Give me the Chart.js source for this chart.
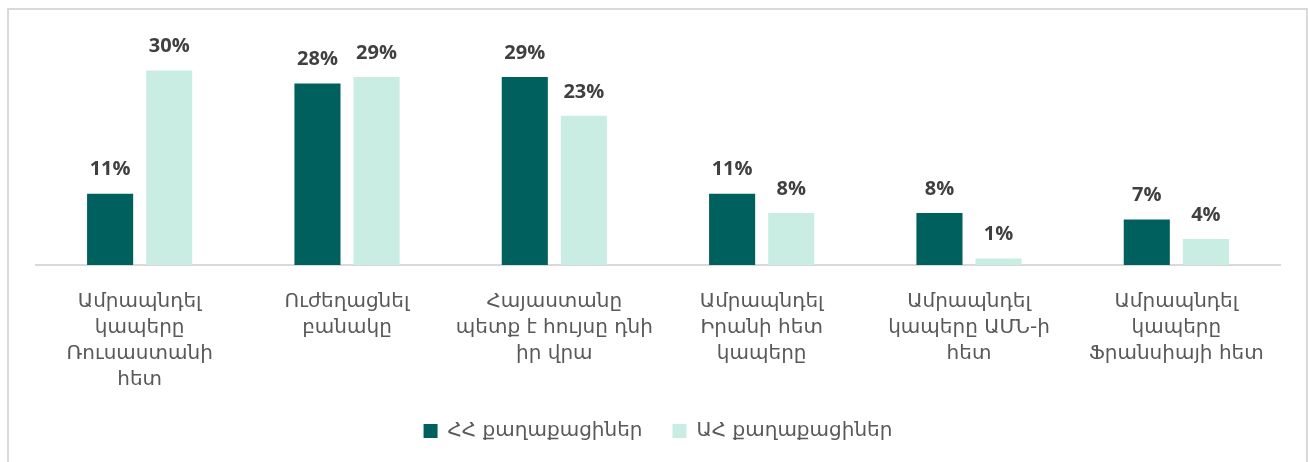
<!DOCTYPE html>
<html>
<head>
<meta charset="utf-8">
<script src="https://cdn.jsdelivr.net/npm/chart.js@4"></script>
<style>
    html, body { margin: 0; padding: 0; background: #fff; }
    #frame {
        position: absolute; left: 7px; top: 8px; width: 1297px; height: 470px;
        border: 2px solid #d9d9d9; border-bottom: none;
    }
    #wrap { position: absolute; left: 0; top: 0; width: 1308px; height: 462px; }
</style>
</head>
<body>
<div id="frame"></div>
<div id="wrap"><canvas id="barChart"></canvas></div>
<script>
// ── Data ──────────────────────────────────────────────────
const categories = [
    ['Ամրապնդել', 'կապերը', 'Ռուսաստանի', 'հետ'],
    ['Ուժեղացնել', 'բանակը'],
    ['Հայաստանը', 'պետք է հույսը դնի', 'իր վրա'],
    ['Ամրապնդել', 'Իրանի հետ', 'կապերը'],
    ['Ամրապնդել', 'կապերը ԱՄՆ-ի', 'հետ'],
    ['Ամրապնդել', 'կապերը', 'Ֆրանսիայի հետ']
];
const seriesNames = ['ՀՀ քաղաքացիներ', 'ԱՀ քաղաքացիներ'];
const raValues = [11, 28, 29, 11, 8, 7];
const arValues = [30, 29, 23, 8, 1, 4];

const DARK = '#00605e';
const LIGHT = '#c9ede3';
const ARM_FONT = '"DejaVu Sans", "Noto Sans Armenian", sans-serif';

// value labels above each bar
const valueLabels = {
    id: 'valueLabels',
    afterDatasetsDraw(chart) {
        const ctx = chart.ctx;
        ctx.save();
        ctx.font = 'bold 20px "Open Sans", sans-serif';
        ctx.fillStyle = '#404040';
        ctx.textAlign = 'center';
        ctx.textBaseline = 'middle';
        chart.data.datasets.forEach((ds, i) => {
            chart.getDatasetMeta(i).data.forEach((bar, j) => {
                ctx.fillText(ds.data[j] + '%', bar.x, bar.y - 24);
            });
        });
        ctx.restore();
    }
};

new Chart(document.getElementById('barChart').getContext('2d'), {
    type: 'bar',
    data: {
        labels: categories,
        datasets: [
            { label: seriesNames[0], data: raValues, backgroundColor: DARK, borderWidth: 0 },
            { label: seriesNames[1], data: arValues, backgroundColor: LIGHT, borderWidth: 0 }
        ]
    },
    options: {
        responsive: true,
        maintainAspectRatio: false,
        animation: false,
        layout: { padding: { left: 36, right: 28, top: 38, bottom: 11 } },
        datasets: { bar: { categoryPercentage: 0.57, barPercentage: 0.78 } },
        plugins: {
            tooltip: { enabled: false },
            legend: {
                position: 'bottom',
                labels: {
                    boxWidth: 14, boxHeight: 14, padding: 30,
                    color: '#595959',
                    font: { family: ARM_FONT, size: 20 }
                }
            }
        },
        scales: {
            x: {
                grid: { display: false },
                border: { display: true, color: '#d9d9d9', width: 2 },
                ticks: {
                    color: '#595959', padding: 16, maxRotation: 0, autoSkip: false,
                    font: { family: ARM_FONT, size: 20, lineHeight: 1.3 }
                },
                afterFit: axis => { axis.height = 126; }
            },
            y: {
                display: false,
                min: 0,
                max: 35
            }
        }
    },
    plugins: [valueLabels]
});
</script>
</body>
</html>
